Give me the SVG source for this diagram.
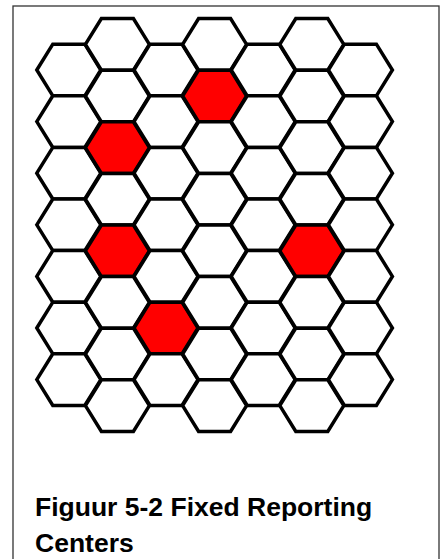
<svg xmlns="http://www.w3.org/2000/svg" xmlns:xlink="http://www.w3.org/1999/xlink" width="441" height="559" viewBox="0 0 441 559">
<style>
.hex{fill:#ffffff;stroke:#000000;stroke-width:3.5;stroke-linejoin:miter}
.red{fill:#ff0000}
.frame{fill:#ffffff;stroke:#333333;stroke-width:1.3}
.cap{font-family:"Liberation Sans",Arial,sans-serif;font-weight:bold;font-size:26.5px;fill:#000000}
</style>
<defs>
<polygon id="h" points="-32,0 -16,-25.8 16,-25.8 32,0 16,25.8 -16,25.8"/>
</defs>
<rect class="frame" x="13" y="6" width="426" height="565"/>
<g id="connectors"></g>
<g id="cells">
<g id="c0r0"><use href="#h" class="hex" x="68.8" y="70"/></g>
<g id="c0r1"><use href="#h" class="hex" x="68.8" y="121.6"/></g>
<g id="c0r2"><use href="#h" class="hex" x="68.8" y="173.2"/></g>
<g id="c0r3"><use href="#h" class="hex" x="68.8" y="224.8"/></g>
<g id="c0r4"><use href="#h" class="hex" x="68.8" y="276.4"/></g>
<g id="c0r5"><use href="#h" class="hex" x="68.8" y="328"/></g>
<g id="c0r6"><use href="#h" class="hex" x="68.8" y="379.6"/></g>
<g id="c1r0"><use href="#h" class="hex" x="117.4" y="44.4"/></g>
<g id="c1r1"><use href="#h" class="hex" x="117.4" y="96"/></g>
<g id="c1r2"><use href="#h" class="hex red" x="117.4" y="147.6"/></g>
<g id="c1r3"><use href="#h" class="hex" x="117.4" y="199.2"/></g>
<g id="c1r4"><use href="#h" class="hex red" x="117.4" y="250.8"/></g>
<g id="c1r5"><use href="#h" class="hex" x="117.4" y="302.4"/></g>
<g id="c1r6"><use href="#h" class="hex" x="117.4" y="354"/></g>
<g id="c1r7"><use href="#h" class="hex" x="117.4" y="405.6"/></g>
<g id="c2r0"><use href="#h" class="hex" x="166" y="70"/></g>
<g id="c2r1"><use href="#h" class="hex" x="166" y="121.6"/></g>
<g id="c2r2"><use href="#h" class="hex" x="166" y="173.2"/></g>
<g id="c2r3"><use href="#h" class="hex" x="166" y="224.8"/></g>
<g id="c2r4"><use href="#h" class="hex" x="166" y="276.4"/></g>
<g id="c2r5"><use href="#h" class="hex red" x="166" y="328"/></g>
<g id="c2r6"><use href="#h" class="hex" x="166" y="379.6"/></g>
<g id="c3r0"><use href="#h" class="hex" x="214.6" y="44.4"/></g>
<g id="c3r1"><use href="#h" class="hex red" x="214.6" y="96"/></g>
<g id="c3r2"><use href="#h" class="hex" x="214.6" y="147.6"/></g>
<g id="c3r3"><use href="#h" class="hex" x="214.6" y="199.2"/></g>
<g id="c3r4"><use href="#h" class="hex" x="214.6" y="250.8"/></g>
<g id="c3r5"><use href="#h" class="hex" x="214.6" y="302.4"/></g>
<g id="c3r6"><use href="#h" class="hex" x="214.6" y="354"/></g>
<g id="c3r7"><use href="#h" class="hex" x="214.6" y="405.6"/></g>
<g id="c4r0"><use href="#h" class="hex" x="263.2" y="70"/></g>
<g id="c4r1"><use href="#h" class="hex" x="263.2" y="121.6"/></g>
<g id="c4r2"><use href="#h" class="hex" x="263.2" y="173.2"/></g>
<g id="c4r3"><use href="#h" class="hex" x="263.2" y="224.8"/></g>
<g id="c4r4"><use href="#h" class="hex" x="263.2" y="276.4"/></g>
<g id="c4r5"><use href="#h" class="hex" x="263.2" y="328"/></g>
<g id="c4r6"><use href="#h" class="hex" x="263.2" y="379.6"/></g>
<g id="c5r0"><use href="#h" class="hex" x="311.8" y="44.4"/></g>
<g id="c5r1"><use href="#h" class="hex" x="311.8" y="96"/></g>
<g id="c5r2"><use href="#h" class="hex" x="311.8" y="147.6"/></g>
<g id="c5r3"><use href="#h" class="hex" x="311.8" y="199.2"/></g>
<g id="c5r4"><use href="#h" class="hex red" x="311.8" y="250.8"/></g>
<g id="c5r5"><use href="#h" class="hex" x="311.8" y="302.4"/></g>
<g id="c5r6"><use href="#h" class="hex" x="311.8" y="354"/></g>
<g id="c5r7"><use href="#h" class="hex" x="311.8" y="405.6"/></g>
<g id="c6r0"><use href="#h" class="hex" x="360.4" y="70"/></g>
<g id="c6r1"><use href="#h" class="hex" x="360.4" y="121.6"/></g>
<g id="c6r2"><use href="#h" class="hex" x="360.4" y="173.2"/></g>
<g id="c6r3"><use href="#h" class="hex" x="360.4" y="224.8"/></g>
<g id="c6r4"><use href="#h" class="hex" x="360.4" y="276.4"/></g>
<g id="c6r5"><use href="#h" class="hex" x="360.4" y="328"/></g>
<g id="c6r6"><use href="#h" class="hex" x="360.4" y="379.6"/></g>
</g>
<g id="caption">
<text class="cap" x="35" y="516">Figuur 5-2 Fixed Reporting</text>
<text class="cap" x="35" y="552">Centers</text>
</g>
</svg>
